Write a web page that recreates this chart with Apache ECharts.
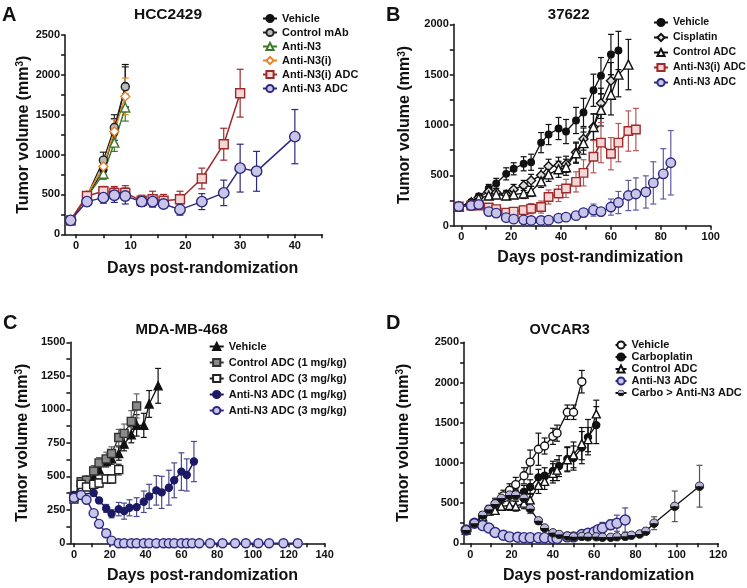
<!DOCTYPE html>
<html><head><meta charset="utf-8">
<script src="https://cdn.jsdelivr.net/npm/echarts@6/dist/echarts.min.js"></script>
<style>html,body{margin:0;padding:0;background:#fff}#c{width:747px;height:588px}</style>
</head><body><div id="c"></div>
<script>
// ---------- Panel A: HCC2429 ----------
const A_veh_days = [-1, 2, 5, 7, 9];
const A_veh = [175, 470, 810, 1280, 1860];
const A_veh_err = [20, 40, 90, 170, 270];
const A_mab_days = [-1, 2, 5, 7, 9];
const A_mab = [175, 480, 930, 1340, 1850];
const A_mab_err = [20, 40, 100, 160, 250];
const A_n3_days = [-1, 2, 5, 7, 9];
const A_n3 = [175, 470, 760, 1150, 1590];
const A_n3_err = [20, 40, 70, 110, 170];
const A_n3i_days = [-1, 2, 5, 7, 9];
const A_n3i = [175, 490, 850, 1290, 1730];
const A_n3i_err = [20, 40, 80, 150, 230];
const A_n3iadc_days = [-1, 2, 5, 7, 9, 12, 14, 16, 19, 23, 27, 30];
const A_n3iadc = [175, 480, 540, 520, 520, 420, 440, 420, 440, 700, 1130, 1770];
const A_n3iadc_err = [20, 40, 60, 80, 90, 70, 100, 80, 100, 130, 200, 300];
const A_n3adc_days = [-1, 2, 5, 7, 9, 12, 14, 16, 19, 23, 27, 30, 33, 40];
const A_n3adc = [175, 410, 460, 490, 480, 410, 410, 380, 310, 410, 520, 830, 790, 1225];
const A_n3adc_err = [20, 30, 70, 90, 100, 60, 60, 50, 70, 100, 160, 300, 250, 340];

// ---------- Panel B: 37622 ----------
const B_veh_days = [-1, 4, 7, 11, 14, 18, 21, 25, 28, 32, 35, 39, 42, 46, 49, 53, 56, 60, 63];
const B_veh = [190, 235, 290, 370, 420, 515, 565, 615, 630, 825, 905, 965, 935, 1045, 1125, 1345, 1490, 1700, 1740];
const B_veh_err = [20, 20, 30, 40, 50, 60, 60, 70, 80, 100, 100, 110, 120, 130, 140, 160, 180, 200, 190];
const B_cis_days = [-1, 4, 7, 11, 14, 18, 21, 25, 28, 32, 35, 39, 42, 46, 49, 53, 56, 60];
const B_cis = [190, 230, 280, 340, 330, 310, 360, 400, 450, 500, 590, 600, 610, 730, 860, 980, 1215, 1440];
const B_cis_err = [20, 20, 30, 40, 40, 40, 50, 50, 60, 70, 70, 80, 80, 100, 110, 130, 150, 180];
const B_ctl_days = [-1, 4, 7, 11, 14, 18, 21, 25, 28, 32, 35, 39, 42, 46, 49, 53, 56, 60, 63, 67];
const B_ctl = [190, 230, 270, 300, 310, 300, 310, 320, 340, 440, 510, 560, 580, 720, 820, 980, 1150, 1300, 1500, 1600];
const B_ctl_err = [20, 20, 30, 40, 40, 40, 40, 50, 50, 60, 70, 80, 80, 100, 110, 130, 160, 200, 220, 250];
const B_n3i_days = [-1, 4, 7, 11, 14, 18, 21, 25, 28, 32, 35, 39, 42, 46, 49, 53, 56, 60, 63, 67, 70];
const B_n3i = [190, 200, 200, 180, 165, 130, 140, 155, 170, 185, 285, 320, 370, 435, 525, 685, 825, 715, 825, 940, 955];
const B_n3i_err = [20, 20, 25, 30, 30, 30, 35, 40, 50, 60, 70, 80, 90, 100, 130, 160, 200, 160, 190, 200, 210];
const B_n3_days = [-1, 4, 7, 11, 14, 18, 21, 25, 28, 32, 35, 39, 42, 46, 49, 53, 56, 60, 63, 67, 70, 74, 77, 81, 84];
const B_n3 = [190, 200, 210, 140, 125, 80, 65, 58, 52, 52, 55, 75, 85, 100, 130, 155, 140, 185, 230, 300, 315, 335, 425, 515, 625];
const B_n3_err = [20, 20, 20, 20, 20, 15, 15, 15, 15, 15, 15, 20, 20, 30, 40, 60, 40, 80, 110, 150, 160, 160, 210, 250, 320];

// ---------- Panel C: MDA-MB-468 ----------
const C_veh_days = [0, 4, 7, 11, 14, 18, 21, 25, 28, 32, 35, 39, 42, 47];
const C_veh = [350, 455, 470, 490, 550, 610, 630, 670, 740, 810, 880, 880, 1040, 1175];
const C_veh_err = [20, 25, 30, 30, 40, 40, 40, 50, 50, 60, 80, 90, 100, 130];
const C_c1_days = [0, 4, 7, 11, 14, 18, 21, 25, 28, 32, 35];
const C_c1 = [350, 460, 470, 540, 600, 630, 670, 790, 820, 910, 1025];
const C_c1_err = [20, 30, 30, 40, 40, 50, 50, 60, 70, 80, 90];
const C_c3_days = [0, 4, 7, 11, 14, 18, 21, 25];
const C_c3 = [330, 440, 420, 440, 450, 480, 480, 550];
const C_c3_err = [20, 20, 20, 30, 30, 30, 30, 40];
const C_a1_days = [0, 11, 14, 18, 21, 25, 28, 31, 35, 39, 42, 46, 49, 53, 56, 60, 63, 67];
const C_a1 = [360, 375, 320, 260, 220, 255, 240, 265, 270, 310, 350, 395, 380, 415, 470, 535, 510, 610];
const C_a1_err = [20, 20, 20, 30, 30, 50, 60, 60, 70, 80, 90, 110, 120, 130, 130, 140, 120, 150];
const C_a3_days = [0, 4, 7, 11, 14, 18, 21, 25, 28, 32, 35, 39, 42, 46, 50, 53, 56, 60, 63, 66, 70, 76, 83, 90, 96, 103, 109, 117, 125];
const C_a3 = [340, 360, 325, 225, 145, 75, 20, 0, 0, 0, 0, 0, 0, 0, 0, 0, 0, 0, 0, 0, 0, 0, 0, 0, 0, 0, 0, 0, 0];
const C_a3_err = [20, 20, 20, 20, 20, 15, 10, 0, 0, 0, 0, 0, 0, 0, 0, 0, 0, 0, 0, 0, 0, 0, 0, 0, 0, 0, 0, 0, 0];

// ---------- Panel D: OVCAR3 ----------
const D_veh_days = [-2, 2, 6, 9, 13, 16, 19, 22, 26, 29, 33, 36, 40, 42, 47, 50, 54];
const D_veh = [165, 250, 340, 420, 480, 590, 660, 730, 840, 1010, 1170, 1210, 1330, 1370, 1630, 1630, 2010];
const D_veh_err = [20, 30, 40, 50, 60, 70, 80, 90, 100, 150, 200, 100, 100, 100, 90, 90, 140];
const D_carb_days = [-2, 2, 6, 9, 12, 15, 19, 22, 26, 29, 33, 36, 40, 43, 47, 50, 54, 57, 61];
const D_carb = [165, 250, 350, 420, 500, 560, 590, 620, 640, 700, 820, 840, 900, 960, 1050, 1060, 1190, 1320, 1470];
const D_carb_err = [20, 30, 40, 50, 60, 60, 60, 70, 80, 90, 100, 100, 120, 130, 150, 150, 200, 220, 230];
const D_ctl_days = [-2, 2, 6, 9, 12, 15, 19, 22, 26, 29, 33, 36, 40, 42, 47, 50, 54, 57, 61];
const D_ctl = [165, 250, 330, 400, 410, 460, 470, 460, 500, 540, 720, 770, 870, 910, 1040, 1100, 1240, 1290, 1610];
const D_ctl_err = [20, 30, 40, 50, 50, 50, 60, 60, 70, 80, 100, 100, 120, 130, 150, 160, 200, 150, 170];
const D_n3_days = [-2, 2, 6, 9, 12, 16, 19, 23, 26, 29, 33, 36, 40, 42, 47, 50, 54, 57, 60, 62, 64, 68, 71, 75];
const D_n3 = [165, 250, 220, 190, 135, 100, 80, 75, 70, 70, 70, 70, 60, 60, 80, 80, 110, 125, 140, 170, 190, 230, 250, 290];
const D_n3_err = [15, 20, 20, 20, 15, 10, 10, 10, 10, 10, 10, 10, 10, 10, 10, 10, 20, 30, 40, 50, 70, 60, 100, 150];
const D_combo_days = [-2, 2, 6, 9, 12, 15, 19, 22, 26, 29, 33, 36, 40, 43, 47, 50, 54, 57, 61, 64, 68, 71, 75, 78, 82, 85, 89, 99, 111];
const D_combo = [165, 250, 350, 420, 490, 560, 600, 600, 560, 430, 280, 190, 130, 110, 90, 80, 85, 80, 80, 75, 75, 80, 85, 100, 115, 150, 250, 460, 710];
const D_combo_err = [20, 30, 40, 50, 60, 60, 70, 70, 70, 60, 40, 30, 20, 20, 15, 15, 15, 15, 15, 15, 15, 15, 15, 20, 30, 40, 80, 190, 260];

// ---------- tick labels ----------
const A_xLabels = [0, 10, 20, 30, 40];
const A_yLabels = [0, 500, 1000, 1500, 2000, 2500];
const B_xLabels = [0, 20, 40, 60, 80, 100];
const B_yLabels = [0, 500, 1000, 1500, 2000];
const C_xLabels = [0, 20, 40, 60, 80, 100, 120, 140];
const C_yLabels = [0, 250, 500, 750, 1000, 1250, 1500];
const D_xLabels = [0, 20, 40, 60, 80, 100, 120];
const D_yLabels = [0, 500, 1000, 1500, 2000, 2500];

// ---------- rendering ----------
const FONT = '"Liberation Sans", Arial, sans-serif';
const NAVY = '#2c2a80', LAV = '#c8c5e8', RED = '#9e2a2b', PINK = '#f4d6d6', GREEN = '#3c7a2b', ORANGE = '#e8842c';
const halfSvg = '<svg xmlns="http://www.w3.org/2000/svg" width="20" height="20" viewBox="0 0 20 20"><path d="M1.5,10 A8.5,8.5 0 0,1 18.5,10 Z" fill="#b9b6e0"/><path d="M1.5,10 A8.5,8.5 0 0,0 18.5,10 Z" fill="#111"/><circle cx="10" cy="10" r="8.5" fill="none" stroke="#222" stroke-width="2"/></svg>';
const HALF = 'image://data:image/svg+xml;charset=utf-8,' + encodeURIComponent(halfSvg);

function range(a, b, s) { const r = []; for (let v = a; v <= b + 1e-9; v += s) r.push(v); return r; }

const series = [];
function add(panel, gi, name, days, vals, errs, st) {
  series.push({
    type: 'custom', name: panel + ':' + name + ':err', xAxisIndex: gi, yAxisIndex: gi, z: 1,
    data: days.map((d, i) => [d, vals[i], errs[i]]),
    encode: { x: 0, y: 1 },
    renderItem: function (params, api) {
      const x = api.value(0), y = api.value(1), e = api.value(2);
      if (!e) return null;
      const t = api.coord([x, y + e]), b = api.coord([x, Math.max(0, y - e)]);
      const w = (st.cap || 7) / 2;
      const s = { stroke: st.err || st.color, lineWidth: 1.2 };
      return { type: 'group', children: [
        { type: 'line', shape: { x1: t[0], y1: t[1], x2: b[0], y2: b[1] }, style: s },
        { type: 'line', shape: { x1: t[0] - w, y1: t[1], x2: t[0] + w, y2: t[1] }, style: s },
        { type: 'line', shape: { x1: b[0] - w, y1: b[1], x2: b[0] + w, y2: b[1] }, style: s }
      ] };
    }
  });
  series.push({
    type: 'line', name: panel + ':' + name, xAxisIndex: gi, yAxisIndex: gi, z: 2,
    data: days.map((d, i) => [d, vals[i]]),
    symbol: st.symbol, symbolSize: st.size, showAllSymbol: true, symbolKeepAspect: true,
    lineStyle: { color: st.color, width: st.lw || 1.3 },
    itemStyle: { color: st.fill, borderColor: st.color, borderWidth: st.bw || 1.4 },
    emphasis: { disabled: true }, animation: false
  });
}

// A
add('A', 0, 'Vehicle', A_veh_days, A_veh, A_veh_err, { symbol: 'circle', size: 7, color: '#111', fill: '#111' });
add('A', 0, 'Control mAb', A_mab_days, A_mab, A_mab_err, { symbol: 'circle', size: 8, color: '#222', fill: '#bbb' });
add('A', 0, 'Anti-N3', A_n3_days, A_n3, A_n3_err, { symbol: 'triangle', size: 9, color: GREEN, fill: '#fff', lw: 1.5 });
add('A', 0, 'Anti-N3(i)', A_n3i_days, A_n3i, A_n3i_err, { symbol: 'diamond', size: 9, color: ORANGE, fill: '#fff', lw: 1.5 });
add('A', 0, 'Anti-N3(i) ADC', A_n3iadc_days, A_n3iadc, A_n3iadc_err, { symbol: 'rect', size: 9, color: RED, fill: PINK, lw: 1.5 });
add('A', 0, 'Anti-N3 ADC', A_n3adc_days, A_n3adc, A_n3adc_err, { symbol: 'circle', size: 10.5, color: NAVY, fill: LAV, lw: 1.5 });
// B
add('B', 1, 'Vehicle', B_veh_days, B_veh, B_veh_err, { symbol: 'circle', size: 6.5, color: '#111', fill: '#111', cap: 6 });
add('B', 1, 'Cisplatin', B_cis_days, B_cis, B_cis_err, { symbol: 'diamond', size: 9, color: '#111', fill: '#ddd', cap: 6 });
add('B', 1, 'Control ADC', B_ctl_days, B_ctl, B_ctl_err, { symbol: 'triangle', size: 9, color: '#111', fill: '#fff', cap: 6 });
add('B', 1, 'Anti-N3(i) ADC', B_n3i_days, B_n3i, B_n3i_err, { symbol: 'rect', size: 8.5, color: RED, fill: PINK, err: '#b55a5a', cap: 6, lw: 1.5 });
add('B', 1, 'Anti-N3 ADC', B_n3_days, B_n3, B_n3_err, { symbol: 'circle', size: 9.5, color: NAVY, fill: LAV, err: '#5f5da3', cap: 6, lw: 1.5 });
// C
add('C', 2, 'Vehicle', C_veh_days, C_veh, C_veh_err, { symbol: 'triangle', size: 8, color: '#111', fill: '#111', cap: 6 });
add('C', 2, 'Control ADC (1 mg/kg)', C_c1_days, C_c1, C_c1_err, { symbol: 'rect', size: 8, color: '#333', fill: '#8a8a8a', err: '#666', cap: 6 });
add('C', 2, 'Control ADC (3 mg/kg)', C_c3_days, C_c3, C_c3_err, { symbol: 'rect', size: 8, color: '#222', fill: '#fff', cap: 6 });
add('C', 2, 'Anti-N3 ADC (1 mg/kg)', C_a1_days, C_a1, C_a1_err, { symbol: 'circle', size: 7, color: '#1c1a66', fill: '#1c1a66', err: '#4c4a90', cap: 6, lw: 1.5 });
add('C', 2, 'Anti-N3 ADC (3 mg/kg)', C_a3_days, C_a3, C_a3_err, { symbol: 'circle', size: 9, color: NAVY, fill: LAV, cap: 6, lw: 1.5 });
// D
add('D', 3, 'Vehicle', D_veh_days, D_veh, D_veh_err, { symbol: 'circle', size: 8, color: '#111', fill: '#fff', cap: 6 });
add('D', 3, 'Carboplatin', D_carb_days, D_carb, D_carb_err, { symbol: 'circle', size: 7, color: '#111', fill: '#111', cap: 6 });
add('D', 3, 'Control ADC', D_ctl_days, D_ctl, D_ctl_err, { symbol: 'triangle', size: 8, color: '#111', fill: '#fff', cap: 6 });
add('D', 3, 'Anti-N3 ADC', D_n3_days, D_n3, D_n3_err, { symbol: 'circle', size: 10, color: NAVY, fill: LAV, err: '#4c4a90', cap: 6, lw: 1.5 });
add('D', 3, 'Carbo > Anti-N3 ADC', D_combo_days, D_combo, D_combo_err, { symbol: HALF, size: 10, color: '#111', fill: LAV, err: '#555', cap: 6 });

const grids = [
  { left: 65.1, top: 35, width: 257.1, height: 199.3 },
  { left: 453.8, top: 24.3, width: 256.9, height: 201.4 },
  { left: 70.4, top: 342.3, width: 254.2, height: 201 },
  { left: 464.1, top: 342.3, width: 254, height: 201 }
];
const axLine = { show: true, onZero: false, lineStyle: { color: '#111', width: 1.5 } };
const tickSt = { color: '#111', width: 1.5 };
const labSt = { color: '#111', fontSize: 11, fontWeight: 'bold', fontFamily: FONT, formatter: v => String(v) };
function xAx(gi, min, max, labels, tickStep, name, gap, shift) {
  return { type: 'value', gridIndex: gi, min: min, max: max, axisLine: axLine,
    axisTick: { show: true, length: 4, lineStyle: tickSt, customValues: range(0, max, tickStep) },
    axisLabel: Object.assign({ customValues: labels, margin: 6 }, labSt),
    splitLine: { show: false }, name: name, nameLocation: 'middle', nameGap: gap,
    nameTextStyle: { fontSize: 16, fontWeight: 'bold', fontFamily: FONT, color: '#111', padding: [0, 0, 0, shift] } };
}
function yAx(gi, max, labels, tickStep, gap) {
  return { type: 'value', gridIndex: gi, min: 0, max: max, axisLine: axLine,
    axisTick: { show: true, length: 4, lineStyle: tickSt, customValues: range(0, max, tickStep) },
    axisLabel: Object.assign({ customValues: labels, margin: 5 }, labSt),
    splitLine: { show: false }, name: 'Tumor volume (mm{s|3})', nameLocation: 'middle', nameGap: gap,
    nameTextStyle: { fontSize: 16, fontWeight: 'bold', fontFamily: FONT, color: '#111',
      rich: { s: { fontSize: 10, fontWeight: 'bold', fontFamily: FONT, color: '#111', verticalAlign: 'top', padding: [0, 0, 6, 0] } } } };
}
function leg(panel, names, left, top, gap, iw, fs) {
  return { orient: 'vertical', left: left, top: top, itemGap: gap, itemWidth: iw, itemHeight: 9, padding: 0,
    data: names.map(n => panel + ':' + n), formatter: n => n.slice(2),
    textStyle: { fontSize: fs, fontWeight: 'bold', fontFamily: FONT, color: '#111' }, selectedMode: false };
}
function ttl(text, cx, top, size) {
  return { text: text, left: cx, top: top, textAlign: 'center', padding: 0,
    textStyle: { fontSize: size, fontWeight: 'bold', fontFamily: FONT, color: '#111' } };
}
function letter(text, left, top) {
  return { text: text, left: left, top: top, padding: 0, textStyle: { fontSize: 20, fontWeight: 'bold', fontFamily: FONT, color: '#111' } };
}

const chart = echarts.init(document.getElementById('c'), null, { renderer: 'canvas' });
chart.setOption({
  animation: false,
  backgroundColor: '#fff',
  title: [
    letter('A', 2, 5), letter('B', 386, 5), letter('C', 3, 313), letter('D', 386, 313),
    ttl('HCC2429', 168, 7, 15.5), ttl('37622', 568.7, 7, 15), ttl('MDA-MB-468', 181.7, 322, 15), ttl('OVCAR3', 559.7, 322, 14.5)
  ],
  legend: [
    leg('A', ['Vehicle', 'Control mAb', 'Anti-N3', 'Anti-N3(i)', 'Anti-N3(i) ADC', 'Anti-N3 ADC'], 262, 13, 3, 14, 11),
    leg('B', ['Vehicle', 'Cisplatin', 'Control ADC', 'Anti-N3(i) ADC', 'Anti-N3 ADC'], 653, 17, 4, 14, 10.5),
    leg('C', ['Vehicle', 'Control ADC (1 mg/kg)', 'Control ADC (3 mg/kg)', 'Anti-N3 ADC (1 mg/kg)', 'Anti-N3 ADC (3 mg/kg)'], 208.7, 341, 5, 14, 11),
    leg('D', ['Vehicle', 'Carboplatin', 'Control ADC', 'Anti-N3 ADC', 'Carbo > Anti-N3 ADC'], 614.5, 339.5, 1, 11, 11)
  ],
  grid: grids,
  xAxis: [
    xAx(0, -2, 45, A_xLabels, 5, 'Days post-randomization', 26, 18),
    xAx(1, -3, 100, B_xLabels, 10, 'Days post-randimization', 24, 16),
    xAx(2, -2, 140, C_xLabels, 10, 'Days post-randomization', 24, 10),
    xAx(3, -3, 120, D_xLabels, 10, 'Days post-randomization', 24, 15)
  ],
  yAxis: [
    yAx(0, 2500, A_yLabels, 250, 33),
    yAx(1, 2000, B_yLabels, 250, 41),
    yAx(2, 1500, C_yLabels, 125, 40),
    yAx(3, 2500, D_yLabels, 250, 53)
  ],
  series: series
});
</script></body></html>
